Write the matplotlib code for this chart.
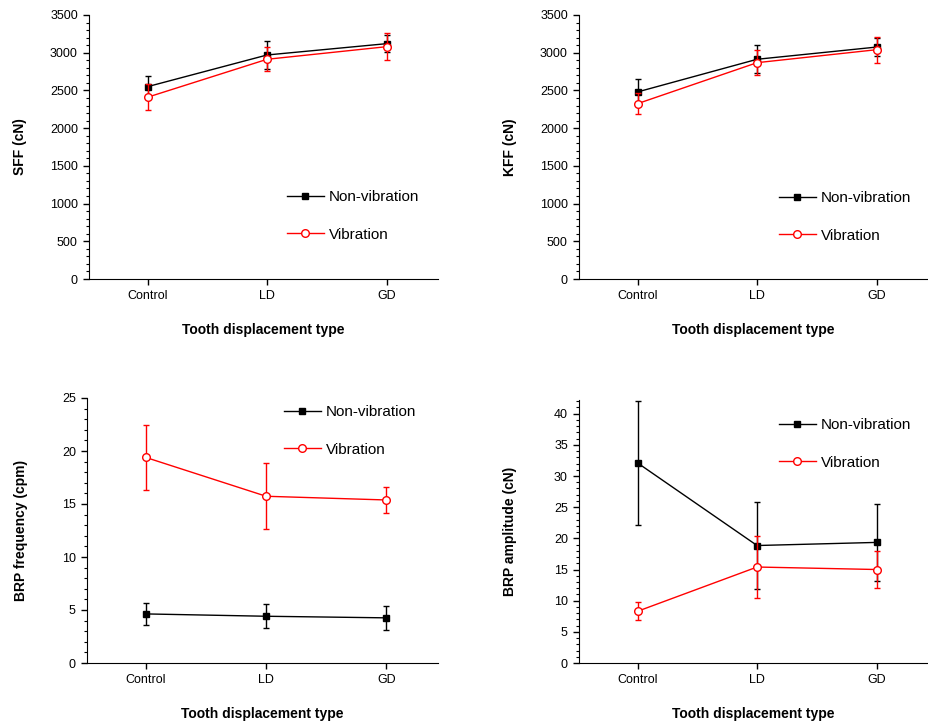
import matplotlib
matplotlib.use("Agg")
import matplotlib.pyplot as plt
from matplotlib.ticker import MultipleLocator

plt.rcParams['font.family'] = ['Liberation Sans', 'DejaVu Sans']

categories = ["Control", "LD", "GD"]
xlabel = "Tooth displacement type"
series_names = ["Non-vibration", "Vibration"]

# SFF (cN)
sff_nonvib = [2550, 2970, 3120]
sff_nonvib_err = [135, 190, 115]
sff_vib = [2410, 2913, 3080]
sff_vib_err = [170, 160, 175]

# KFF (cN)
kff_nonvib = [2480, 2913, 3075]
kff_nonvib_err = [175, 185, 120]
kff_vib = [2325, 2868, 3040]
kff_vib_err = [140, 165, 170]

# BRP frequency (cpm)
freq_nonvib = [4.63, 4.41, 4.26]
freq_nonvib_err = [1.0, 1.15, 1.15]
freq_vib = [19.39, 15.73, 15.38]
freq_vib_err = [3.05, 3.1, 1.2]

# BRP amplitude (cN)
amp_nonvib = [32.1, 18.85, 19.35]
amp_nonvib_err = [9.95, 7.0, 6.2]
amp_vib = [8.3, 15.4, 15.0]
amp_vib_err = [1.45, 4.9, 2.9]

W, H = 929, 722
fig = plt.figure(figsize=(W / 100, H / 100), dpi=100)

def ax_at(left, right, top, bottom):
    return fig.add_axes([left / W, 1 - bottom / H, (right - left) / W, (bottom - top) / H])

panels = [
    dict(box=(89, 438, 15, 279), ylabel="SFF (cN)", ylim=(0, 3500), major=500, minor=100,
         nv=sff_nonvib, nve=sff_nonvib_err, v=sff_vib, ve=sff_vib_err, leg=(287, 196), labx=27),
    dict(box=(579, 928, 15, 279), ylabel="KFF (cN)", ylim=(0, 3500), major=500, minor=100,
         nv=kff_nonvib, nve=kff_nonvib_err, v=kff_vib, ve=kff_vib_err, leg=(779, 197), labx=517),
    dict(box=(87, 438, 398, 663), ylabel="BRP frequency (cpm)", ylim=(0, 25), major=5, minor=1,
         nv=freq_nonvib, nve=freq_nonvib_err, v=freq_vib, ve=freq_vib_err, leg=(284, 411), labx=28),
    dict(box=(579, 928, 400, 663), ylabel="BRP amplitude (cN)", ylim=(0, 42.2), major=5, minor=1,
         nv=amp_nonvib, nve=amp_nonvib_err, v=amp_vib, ve=amp_vib_err, leg=(779, 424), labx=517),
]

x = list(range(len(categories)))
for p in panels:
    l, r, t, b = p['box']
    ax = ax_at(l, r, t, b)
    ax.errorbar(x, p['nv'], yerr=p['nve'], color='black', lw=1, marker='s', ms=4.5,
                mfc='black', mec='black', capsize=2.5, elinewidth=1, capthick=1,
                label=series_names[0], zorder=3)
    ax.errorbar(x, p['v'], yerr=p['ve'], color='red', lw=1, marker='o', ms=5.5,
                mfc='white', mec='red', mew=1, capsize=2.5, elinewidth=1, capthick=1,
                label=series_names[1], zorder=4)
    ax.set_xlim(-0.49, 2.43)
    ax.set_ylim(*p['ylim'])
    ax.set_xticks(x)
    ax.set_xticklabels(categories)
    ax.yaxis.set_major_locator(MultipleLocator(p['major']))
    ax.yaxis.set_minor_locator(MultipleLocator(p['minor']))
    for s in ['top', 'right']:
        ax.spines[s].set_visible(False)
    ax.tick_params(axis='both', which='major', direction='out', length=4, width=1,
                   labelsize=9, pad=4)
    ax.tick_params(axis='y', which='minor', direction='out', length=2, width=0.8)
    ax.set_ylabel(p['ylabel'], fontsize=10, fontweight='bold')
    ax.set_xlabel(xlabel, fontsize=10, fontweight='bold')
    ax.yaxis.set_label_coords((p['labx'] - l) / (r - l), 0.5)
    ax.xaxis.set_label_coords(0.5, -44 / (b - t))
    lx, ly = p['leg']
    h, lab = ax.get_legend_handles_labels()
    h = [hh[0] for hh in h]
    fig.legend(h, lab, loc='upper left', bbox_to_anchor=(lx / W, 1 - (ly - 6) / H),
               frameon=False, fontsize=11, handlelength=2.4, handletextpad=0.35,
               labelspacing=1.55, borderaxespad=0, borderpad=0)

fig.savefig("out.png", dpi=100)
